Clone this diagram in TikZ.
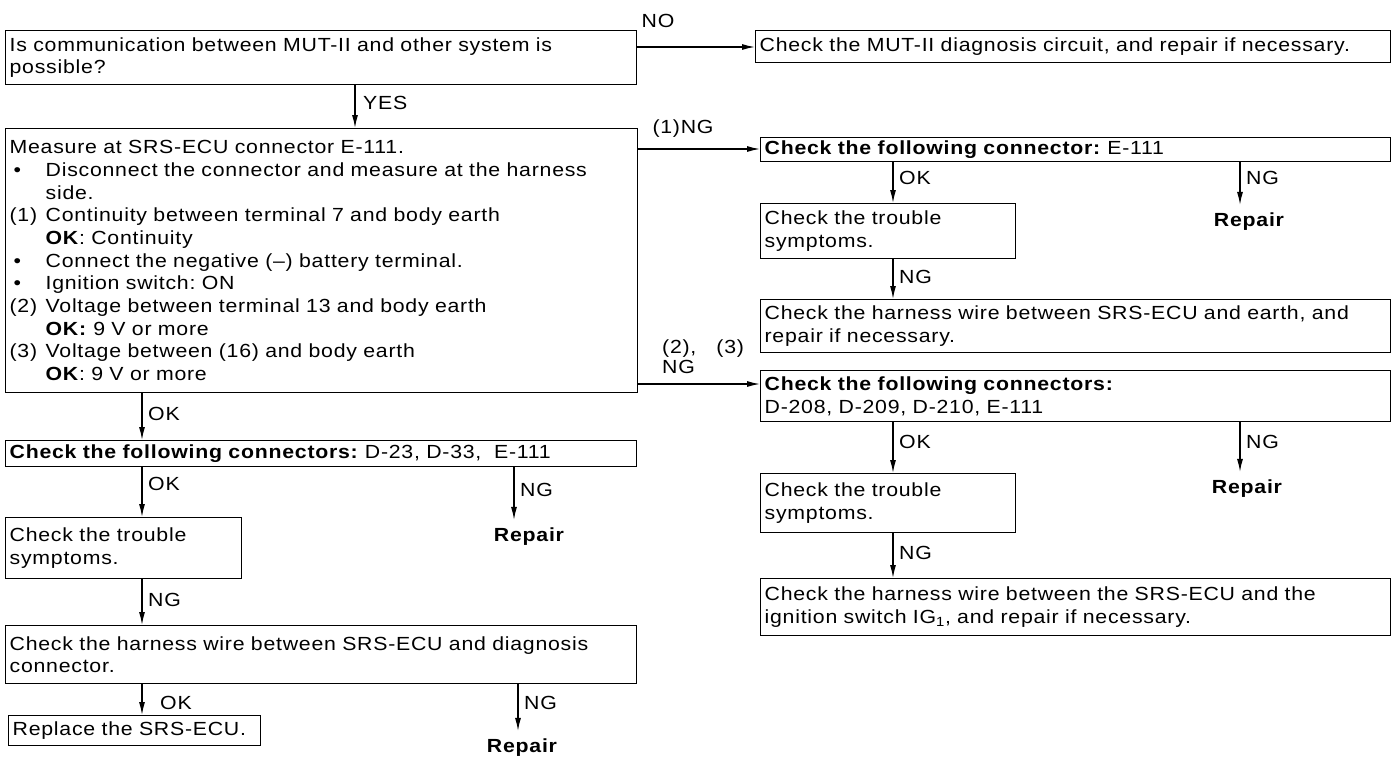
\documentclass[tikz,border=0pt]{standalone}
\usepackage{fontspec}
\setmainfont{Liberation Sans}[FakeStretch=1.12,LetterSpace=4,WordSpace=1.5]
\usetikzlibrary{arrows.meta}
\newcommand{\hng}[2]{\makebox[36pt][l]{#1}#2}
\newcommand{\bul}{\hspace*{4pt}\textbullet}
\frenchspacing
\begin{document}
\begin{tikzpicture}[x=1pt,y=-1pt,
  every node/.style={font=\fontsize{19}{22.7}\selectfont},
  box/.style={draw, line width=1.3pt, anchor=north west, align=left, inner xsep=4pt, inner ysep=0pt},
  lbl/.style={inner sep=0pt},
  rlbl/.style={inner sep=0pt, anchor=west},
  rep/.style={inner sep=0pt, font=\fontsize{19}{20}\bfseries},
  arr/.style={line width=1.3pt, -{Latex[length=13pt,width=6pt]}},
  arrr/.style={arr, shorten >=8pt}
]
\useasboundingbox[fill=white] (0,0) rectangle (1398,756);

% ---------- boxes, left column
\node[box, text width=623pt, minimum height=54pt] (qa) at (5,30)
  {Is communication between MUT-II and other system is\\possible?};
\node[box, text width=624pt, minimum height=264pt] (mc) at (5,128)
  {Measure at SRS-ECU connector E-111.\\
   \hng{\bul}{Disconnect the connector and measure at the harness}\\
   \hng{}{side.}\\
   \hng{(1)}{Continuity between terminal 7 and body earth}\\
   \hng{}{\textbf{OK}: Continuity}\\
   \hng{\bul}{Connect the negative (–) battery terminal.}\\
   \hng{\bul}{Ignition switch: ON}\\
   \hng{(2)}{Voltage between terminal 13 and body earth}\\
   \hng{}{\textbf{OK:} 9 V or more}\\
   \hng{(3)}{Voltage between (16) and body earth}\\
   \hng{}{\textbf{OK}: 9 V or more}};
\node[box, text width=623pt, minimum height=26pt] (cd) at (5,440)
  {\textbf{Check the following connectors:} D-23, D-33,\ \ E-111};
\node[box, text width=228pt, minimum height=61pt] (t1) at (5,517)
  {Check the trouble\\symptoms.};
\node[box, text width=623pt, minimum height=58pt] (h1) at (5,625)
  {Check the harness wire between SRS-ECU and diagnosis\\connector.};
\node[box, text width=244pt, minimum height=30pt] (rp) at (8,715)
  {Replace the SRS-ECU.};

% ---------- boxes, right column
\node[box, text width=627pt, minimum height=32pt] (qb) at (755,30)
  {Check the MUT-II diagnosis circuit, and repair if necessary.};
\node[box, text width=622pt, minimum height=24pt] (d1) at (760,137)
  {\textbf{Check the following connector:} E-111};
\node[box, text width=247pt, minimum height=55pt] (e1) at (760,203)
  {Check the trouble\\symptoms.};
\node[box, text width=622pt, minimum height=53pt] (f1) at (760,299)
  {Check the harness wire between SRS-ECU and earth, and\\repair if necessary.};
\node[box, text width=622pt, minimum height=51pt] (g1) at (760,370)
  {\textbf{Check the following connectors:}\\D-208, D-209, D-210, E-111};
\node[box, text width=247pt, minimum height=59pt] (h2) at (760,473)
  {Check the trouble\\symptoms.};
\node[box, text width=622pt, minimum height=57pt] (i1) at (760,578)
  {Check the harness wire between the SRS-ECU and the\\ignition switch IG\textsubscript{1}, and repair if necessary.};

% ---------- Repair texts
\node[rep] (rep1) at (529,537) {Repair};
\node[rep] (rep2) at (522,748) {Repair};
\node[rep] (rep3) at (1249,222) {Repair};
\node[rep] (rep4) at (1247,489) {Repair};

% ---------- helper coordinates
\coordinate (yNO) at (0,47);
\coordinate (y1NG) at (0,149);
\coordinate (y23NG) at (0,384);
\coordinate (xYES) at (355,0);
\coordinate (xL) at (142,0);
\coordinate (xLn) at (514,0);
\coordinate (xLn2) at (518,0);
\coordinate (xR) at (893,0);
\coordinate (xRn) at (1240,0);

% ---------- connectors
\draw[arr] (qa.east |- yNO) -- (qb.west |- yNO);
\node[lbl] (lno) at (658,21) {NO};
\draw[arr] (qa.south -| xYES) -- (mc.north -| xYES);
\node[rlbl] (lyes) at (363,103) {YES};

\draw[arr] (mc.east |- y1NG) -- (d1.west |- y1NG);
\node[lbl] (l1ng) at (683,129) {(1)NG};
\draw[arr] (mc.east |- y23NG) -- (g1.west |- y23NG);
\node[rlbl, align=left, font=\fontsize{19}{20}\selectfont] (l23ng) at (662,357) {(2),\ \ (3)\\NG};

\draw[arr] (mc.south -| xL) -- (cd.north -| xL);
\node[rlbl] (lok1) at (148,414) {OK};
\draw[arr] (cd.south -| xL) -- (t1.north -| xL);
\node[rlbl] (lok2) at (148,484) {OK};
\draw[arrr] (cd.south -| xLn) -- (rep1.north -| xLn);
\node[rlbl] (lng1) at (520,490) {NG};
\draw[arr] (t1.south -| xL) -- (h1.north -| xL);
\node[rlbl] (lng2) at (148,600) {NG};
\draw[arr] (h1.south -| xL) -- (rp.north -| xL);
\node[rlbl] (lok3) at (160,703) {OK};
\draw[arrr] (h1.south -| xLn2) -- (rep2.north -| xLn2);
\node[rlbl] (lng3) at (524,703) {NG};

\draw[arr] (d1.south -| xR) -- (e1.north -| xR);
\node[rlbl] (lok4) at (899,178) {OK};
\draw[arrr] (d1.south -| xRn) -- (rep3.north -| xRn);
\node[rlbl] (lng4) at (1246,178) {NG};
\draw[arr] (e1.south -| xR) -- (f1.north -| xR);
\node[rlbl] (lng5) at (899,277) {NG};
\draw[arr] (g1.south -| xR) -- (h2.north -| xR);
\node[rlbl] (lok5) at (899,442) {OK};
\draw[arrr] (g1.south -| xRn) -- (rep4.north -| xRn);
\node[rlbl] (lng6) at (1246,442) {NG};
\draw[arr] (h2.south -| xR) -- (i1.north -| xR);
\node[rlbl] (lng7) at (899,553) {NG};
\end{tikzpicture}
\end{document}
